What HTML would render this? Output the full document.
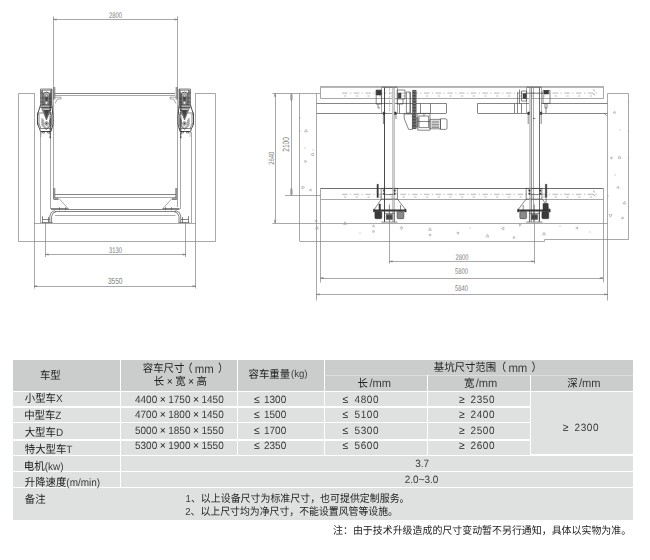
<!DOCTYPE html>
<html lang="zh"><head><meta charset="utf-8"><title>设备参数</title><style>
html,body{margin:0;padding:0;background:#fff}
body{width:650px;height:560px;position:relative;overflow:hidden;font-family:"Liberation Sans","Noto Sans CJK SC",sans-serif;color:#3a3a3a;text-rendering:geometricPrecision;font-kerning:none}
#tbl div{position:absolute}
#tbl .h{background:#cbcdcc}
#tbl .r{background:#dfe0e0}
#tbl .hl{background:#dcdddd}
#tbl .wl{background:#fff}
#txt .t{position:absolute;white-space:nowrap;line-height:2em;height:2em;transform:scaleY(1.06);}
#txt{will-change:transform}
#txt .t span{white-space:pre}
#txt .c{color:#222}
#txt .x{display:inline-block;width:1.06em;text-align:center;color:#222}
#txt .q{display:inline-block;width:0.8em;text-align:center;color:#222}
#dwg{position:absolute;left:0;top:0}
#dwg text{font-family:"Liberation Sans",sans-serif;fill:#808080;stroke:none}
</style></head>
<body>
<svg id="dwg" width="650" height="340" viewBox="0 0 650 340" role="img" aria-label="drawings"><style>#dwg path{fill:none;stroke-linecap:butt;stroke-linejoin:miter}#dwg .a{stroke:#7a7a7a;stroke-width:.65}#dwg .b{stroke:#5c5c5c;stroke-width:.75}#dwg .c{stroke:#363636;stroke-width:.6}#dwg .m{stroke:#2a2a2a;stroke-width:.85}#dwg .d{stroke:#333;stroke-width:.5;fill:#444}#dwg .e{stroke:#2a2a2a;stroke-width:1.1;stroke-dasharray:1 .35}#dwg .e2{stroke:#555;stroke-width:.7;stroke-dasharray:.8 .5}#dwg .f{stroke:none;fill:#d2d2d2}#dwg .k{stroke:#484848;stroke-width:.8}#dwg .a2{stroke:#9a9a9a;stroke-width:.5;stroke-dasharray:3 1}#dwg .gh{stroke:#2e2e2e;stroke-width:2.6;stroke-dasharray:.7 .8}#dwg .w{stroke:#333;stroke-width:.5;fill:#3a3a3a}#dwg .g{stroke:#333;stroke-width:.5;fill:#8a8a8a}#dwg .cl{stroke:#7a7a7a;stroke-width:.55;stroke-dasharray:5.5 2.5 1.2 2.5}#dwg .tk{stroke:#888;stroke-width:.55;stroke-dasharray:2.4 9.3}#dwg .l{stroke:#b0b0b0;stroke-width:.9}#dwg .t{stroke:#8a8a8a;stroke-width:.5}</style><path class="a" d="M53.5 16.4V86.5M177.5 16.4V86.5M53.5 19.5H177.5M53.5 19.5L56.7 19M53.5 19.5L56.7 20M177.5 19.5L174.3 19M177.5 19.5L174.3 20M34.5 93.5L18.5 93.5L18.5 241.5L215.5 241.5L215.5 93.5L195.5 93.5M34.5 93.2V288.5M195.5 93.2V288.5M34 223.5H195.6M40.5 132V223M50.5 134V209M53.5 86.5V199M177.5 86.5V207M180.5 134V209M191.5 132V223M54.5 95.5H175M55 97.2L61 97.2L61 99L57.5 99L55 103.5M176 97.2L170 97.2L170 99L173.5 99L176 103.5M54.5 197.5H176M59 198.5L68 208.5M172 198.5L163 208.5M55 215.5H175.5M45.5 223V257M185.5 223V257M45.6 254.5H185.6M45.6 254.5L48.8 254M45.6 254.5L48.8 255M185.6 254.5L182.4 254M185.6 254.5L182.4 255M34 286.5H195.6M34 286.2L37.2 285.7M34 286.2L37.2 286.7M195.6 286.2L192.4 285.7M195.6 286.2L192.4 286.7"/><path class="b" d="M54.5 93.5H175M53.8 87L53.8 99.5M54.8 87L54.8 99.5M176.2 87L176.2 99.5M177.2 87L177.2 99.5M54.5 194.5H176M53.8 188L53.8 199.5L58.5 199.5M54.8 188L54.8 198.3L58.5 198.3M176.8 188L176.8 199.5L172 199.5M175.8 188L175.8 198.3L172 198.3M51 209.5H179.5M55 211.5H176M59.5 207.3V210.3M65.5 207.3V210.3M165.5 207.3V210.3M171.5 207.3V210.3M51 208.5H68.5M162.5 208.5H179.5M55 210.5L51.2 212.5L49.8 216L49.8 222.6M56.5 211.5L53 213.2L51.6 216.5L51.6 222.6M175.5 210.5L179.3 212.5L180.7 216L180.7 222.6M174 211.5L177.5 213.2L179 216.5L179 222.6M42.5 216.2V222.6M42.6 219.5H49.8M48.5 217V222.6M188.5 216.2V222.6M181 219.5H188.4M182.5 217V222.6M41.5 222.5H52.5M178.5 222.5H189.5"/><text x="109" y="18.1" font-size="8.2" textLength="13" lengthAdjust="spacingAndGlyphs">2800</text><text x="109" y="252.7" font-size="8.2" textLength="13" lengthAdjust="spacingAndGlyphs">3130</text><text x="107.9" y="283.6" font-size="8.9" textLength="14.6" lengthAdjust="spacingAndGlyphs">3550</text><g transform="translate(46 89)"><path class="c" d="M-5.5 0H6V16H-5.5ZM-4.3 1.2H4.8V16H-4.3ZM-1.5 16V6.6A2 2 0 0 1 2.5 6.6V16M-0.4 8V6.6A.9 .9 0 0 1 1.4 6.6V8M-0.8 12.6H1.8V15.2H-0.8ZM-5.5 4H-2M-5.5 9H-2.7M-5.5 13H-2.7M3.7 13H6M3.7 9H6M-3.5 1.2V16M5.4 0V16M-7 25L-7 35L-5.2 39M5.6 25L5.6 35L4.6 39M-8.5 25L-7 25M-8.5 35L-7 35M-4.6 18.5L0.5 31L5.2 18.5ZM-3.4 19.6L0.5 29.6L4.2 19.6ZM-4 29L-4 36.5L0.5 40.5L4.6 36.5L4.6 29M-2.8 30.5L-2.8 36L0.5 39L3.6 36L3.6 30.5M-1.3 34.5A1.8 1.8 0 1 0 2.3 34.5A1.8 1.8 0 1 0 -1.3 34.5M-5.8 18.5H6.2M-5.6 17.2H6.1M-8.5 24H-3M3.5 24H7M-6.5 39.5H6M-3.6 42.5H-1.6V44H-3.6ZM1.6 42.5H3.6V44H1.6Z"/><path class="m" d="M-2.7 16V6.3A3.2 3.2 0 0 1 3.7 6.3V16M-5.5 16L-7 21L-8.5 25L-8.5 35L-6.5 39.5L-5.5 42.5L5 42.5L6 39L7 35L7 27L6.5 22L6 16"/><path class="d" d="M-0.8 8H1.8V11.8H-0.8ZM-2.2 21L0.5 28.5L3.2 21ZM-.2 34.5A.7 .7 0 1 0 1.2 34.5A.7 .7 0 1 0 -.2 34.5"/><path class="e" d="M4.2 3.5V49.8"/><path class="e2" d="M-4.8 1.5V17M-5 43V47.5"/></g><g transform="translate(185 89) scale(-1 1)"><path class="c" d="M-5.5 0H6V16H-5.5ZM-4.3 1.2H4.8V16H-4.3ZM-1.5 16V6.6A2 2 0 0 1 2.5 6.6V16M-0.4 8V6.6A.9 .9 0 0 1 1.4 6.6V8M-0.8 12.6H1.8V15.2H-0.8ZM-5.5 4H-2M-5.5 9H-2.7M-5.5 13H-2.7M3.7 13H6M3.7 9H6M-3.5 1.2V16M5.4 0V16M-7 25L-7 35L-5.2 39M5.6 25L5.6 35L4.6 39M-8.5 25L-7 25M-8.5 35L-7 35M-4.6 18.5L0.5 31L5.2 18.5ZM-3.4 19.6L0.5 29.6L4.2 19.6ZM-4 29L-4 36.5L0.5 40.5L4.6 36.5L4.6 29M-2.8 30.5L-2.8 36L0.5 39L3.6 36L3.6 30.5M-1.3 34.5A1.8 1.8 0 1 0 2.3 34.5A1.8 1.8 0 1 0 -1.3 34.5M-5.8 18.5H6.2M-5.6 17.2H6.1M-8.5 24H-3M3.5 24H7M-6.5 39.5H6M-3.6 42.5H-1.6V44H-3.6ZM1.6 42.5H3.6V44H1.6Z"/><path class="m" d="M-2.7 16V6.3A3.2 3.2 0 0 1 3.7 6.3V16M-5.5 16L-7 21L-8.5 25L-8.5 35L-6.5 39.5L-5.5 42.5L5 42.5L6 39L7 35L7 27L6.5 22L6 16"/><path class="d" d="M-0.8 8H1.8V11.8H-0.8ZM-2.2 21L0.5 28.5L3.2 21ZM-.2 34.5A.7 .7 0 1 0 1.2 34.5A.7 .7 0 1 0 -.2 34.5"/><path class="e" d="M4.2 3.5V49.8"/><path class="e2" d="M-4.8 1.5V17M-5 43V47.5"/></g><path class="a" d="M272.4 93.5H320.6M275.5 93.6V223M275 93.6L274.5 96.8M275 93.6L275.5 96.8M275 223L274.5 219.8M275 223L275.5 219.8M291.5 93.6V195.4M291.4 93.8A.8 3.5 0 0 1 291.4 100.8A.8 3.5 0 0 1 291.4 93.8M291.4 188.2A.8 3.5 0 0 1 291.4 195.2A.8 3.5 0 0 1 291.4 188.2M285 195.5H320.6M272.4 223.5H607.5M299.5 93.6V241M316.5 93.6V300.5M299.5 241.5L544.5 241.5L544.5 239.5L628.5 239.5L628.5 93.5L607.5 93.5M607.5 93.6V300.5M320.5 86.5H603.5V98.5H320.5ZM320.5 188.5H603.5V199.5H320.5ZM322.6 90.5v.1M322.6 94.5v.1M322.6 191.5v.1M593 89.5L595.2 91.5M593 93.6L595.2 95.2M593 190.6L595.2 192.4M593 194.4L595.2 196M320.5 199.6V282.5M603.5 199.6V282.5M604 113L607 116M392.5 87.6V221.5M394.5 87.6V221.5M381.5 87V113M397.5 87V113M529.5 87.6V221.5M533.5 87.6V221.5M526.5 87V113M541.5 87V113M299.5 131h1M299.5 118h1M628.1 102h1M628.1 158h1M628.1 131h1M607.5 196h1M312.5 150h1M304.5 148h1M619.5 130h1M614.5 175h1M359.5 233h1M469.5 228h1M589.5 232h1M559.5 226h1M389.5 223V263.5M534.5 223V263.5M389.6 261.5H534.4M389.6 261.4L392.8 260.9M389.6 261.4L392.8 261.9M534.4 261.4L531.2 260.9M534.4 261.4L531.2 261.9M320.6 278.5H603M320.6 278L323.8 277.5M320.6 278L323.8 278.5M603 278L599.8 277.5M603 278L599.8 278.5M316.6 294.5H607.5M316.6 294.4L319.8 293.9M316.6 294.4L319.8 294.9M607.5 294.4L604.3 293.9M607.5 294.4L604.3 294.9"/><path class="l" d="M320.6 86.5H603M320.6 87.5H603"/><path class="cl" d="M342 93.1H597M342 194.3H597"/><path class="tk" d="M344 96H596M344 197H596"/><path class="b" d="M316.6 103.5H446.4M477.6 103.5H529M541 103.5H607.5M316.6 113.5H446.4M477.6 113.5H529M541 113.5H607.5M446.5 103.4V113M477.5 103.4V113M420.5 103.4V113M430.5 103.4V113M514.5 103.4V113M517.5 103.4V113M521.5 103.4V113M531.5 87.6V221.5M320.6 188.5H603"/><path class="f" d="M392.3 87.6H394.6V221.5H392.3ZM529.2 87.6H531.2V221.5H529.2Z"/><path class="m" d="M384.5 87.6V221.5"/><path class="a2" d="M389.5 88V112"/><path class="c" d="M381.6 87.2H397.2M526.6 87.2H541.6M381.2 188.4H397.4V199.1H381.2ZM526.2 188.4H541.9V199.1H526.2ZM385.4 194.6H393.2M530.8 194.6H538.8M546.1 197.2V204M376.2 90.2H381.6V104H376.2ZM378 104L378 108L380 108M397.2 90H405V99H397.2ZM397.2 99L397.2 104L403 104L403 99M399.5 104L399.5 113M406.4 92H410V113H406.4ZM383.4 114V124M396 114V119M528.2 114V124M541.2 114V124M521.5 91H526.6V101H521.5ZM519.5 89.5L519.5 103.4M517.6 92L517.6 103.4M543 90.5H550V103.4H543ZM545 103.4L545 108L547 108L547 103.4M546 108V113M526.6 93.2H543M533 118.5H535.4M404 114L412.4 114L412.4 129.4L408.6 129.4L404.4 119ZM410.4 92L410.4 113M417.8 113.4H430V130.2H417.8ZM419 116H428.6V127.6H419ZM417.8 121.5H430M424 113.4V116M416 118H417.8V127H416ZM430 119.4H440.4V128.8H430ZM431.5 121.2H439M431.5 122.8H439M431.5 124.4H439M431.5 126H439M431.5 127.4H439M440.4 118.8H445.6A1.4 1.4 0 0 1 447 120.2V128A1.4 1.4 0 0 1 445.6 129.4H440.4Z"/><path class="k" d="M539.5 87.6V221.5"/><path class="w" d="M383.4 189.8h1.3v1.5h-1.3ZM383.4 192.9h1.3v1.5h-1.3ZM394 189.8h1.3v1.5h-1.3ZM394 192.9h1.3v1.5h-1.3ZM528.8 189.8h1.3v1.5h-1.3ZM528.8 192.9h1.3v1.5h-1.3ZM539.6 189.8h1.3v1.5h-1.3ZM539.6 192.9h1.3v1.5h-1.3ZM377 184.3H378.3V197.6H377ZM545.4 184.3H546.8V197.2H545.4ZM376.2 90.2H381V95H376.2ZM383.2 112h1.6v2.4h-1.6ZM394.6 112h1.6v2.4h-1.6ZM527.8 112h1.6v2.4h-1.6ZM540.2 112h1.6v2.4h-1.6ZM544 90.5H548.6V94H544Z"/><path class="d" d="M398.2 93H401V98H398.2ZM523 93.5H526V98.5H523Z"/><path class="g" d="M412.5 90.4H416.2V128.6H412.5Z"/><path class="gh" d="M414.35 90.6V128.4"/><path class="t" d="M306 129.3L307.47 131.85L304.53 131.85ZM313.35 153.03L313.35 155.97L310.8 154.5ZM305.06 162.72L304.66 160.5L306.78 161.27ZM304.5 187.5L301.95 188.97L301.95 186.03ZM310.73 188.72L311.5 190.84L309.28 190.44ZM316.84 220L316.44 222.22L314.72 220.77ZM317 226.3L318.47 228.85L315.53 228.85ZM373.94 224.78L374.34 227L372.22 226.23ZM373.06 232.72L372.66 230.5L374.78 231.27ZM402.97 227.15L401.5 229.7L400.03 227.15ZM430 227.8L431.47 230.35L428.53 230.35ZM429.77 236.28L429 234.16L431.22 234.56ZM458.84 232L458.44 234.22L456.72 232.77ZM487.5 234.3L488.97 236.85L486.03 236.85ZM503.85 227.03L503.85 229.97L501.3 228.5ZM515.28 237.73L513.16 238.5L513.56 236.28ZM519.56 226.22L519.16 224L521.28 224.77ZM544 232.3L545.47 234.85L542.53 234.85ZM575.72 228.23L577.44 226.78L577.84 229ZM345 221.8L346.47 224.35L343.53 224.35ZM614.73 111.22L615.5 113.34L613.28 112.94ZM611.06 159.22L610.66 157L612.78 157.77ZM619.5 155.8L620.97 158.35L618.03 158.35ZM619 188.34L616.78 187.94L618.23 186.22ZM624.5 201.3L625.97 203.85L623.03 203.85ZM611.97 214.65L610.5 217.2L609.03 214.65ZM622.94 216.78L623.34 219L621.22 218.23Z"/><text transform="translate(268.20 158.20) rotate(-90)" x="-6.45" y="5.5" font-size="7.7" textLength="12.9" lengthAdjust="spacingAndGlyphs">2640</text><text transform="translate(282.20 144.40) rotate(-90)" x="-7.4" y="6.6" font-size="9.2" textLength="14.8" lengthAdjust="spacingAndGlyphs">2100</text><text x="455.5" y="259.9" font-size="8.2" textLength="13" lengthAdjust="spacingAndGlyphs">2800</text><text x="455" y="274.1" font-size="8.2" textLength="13" lengthAdjust="spacingAndGlyphs">5800</text><text x="455" y="290.5" font-size="8.2" textLength="13" lengthAdjust="spacingAndGlyphs">5840</text><g transform="translate(389.7 0)"><path class="c" d="M-8.4 199.1L-15.3 209.4M7.8 199.1L15.7 209.4M9.2 211.6V218.7M10.8 211.6V218.7M12.4 211.6V218.7M10.8 205V209.8M-5.2 211.2V222M4.6 211.2V222M-0.3 204.5V222M-5.2 213.4H4.6M-8.4 222.1H7.8"/><path class="w" d="M-15.6 209.8H15.9V211.2H-15.6ZM-16.2 209.2H-15V212H-16.2ZM15.2 209.2H16.4V212H15.2ZM-14.8 212.6Q-14.8 211.6 -13.8 211.6H-8.9Q-7.9 211.6 -7.9 212.6V217.7Q-7.9 218.7 -8.9 218.7H-13.8Q-14.8 218.7 -14.8 217.7ZM-10.7 204H-9.3V209.8H-10.7Z"/><path class="g" d="M7.4 212.6Q7.4 211.6 8.4 211.6H13.2Q14.2 211.6 14.2 212.6V217.7Q14.2 218.7 13.2 218.7H8.4Q7.4 218.7 7.4 217.7ZM-3.5 214.6H2.6V219.4H-3.5Z"/><path class="d" d="M-2.8 215.4H-0.8V218.6H-2.8ZM-0.1 215.4H1.9V218.6H-0.1Z"/></g><g transform="translate(534 0) scale(-1 1)"><path class="c" d="M-8.4 199.1L-15.3 209.4M7.8 199.1L15.7 209.4M9.2 211.6V218.7M10.8 211.6V218.7M12.4 211.6V218.7M10.8 205V209.8M-5.2 211.2V222M4.6 211.2V222M-0.3 204.5V222M-5.2 213.4H4.6M-8.4 222.1H7.8"/><path class="w" d="M-15.6 209.8H15.9V211.2H-15.6ZM-16.2 209.2H-15V212H-16.2ZM15.2 209.2H16.4V212H15.2ZM-14.8 212.6Q-14.8 211.6 -13.8 211.6H-8.9Q-7.9 211.6 -7.9 212.6V217.7Q-7.9 218.7 -8.9 218.7H-13.8Q-14.8 218.7 -14.8 217.7ZM-14.2 203.6H-9V209.8H-14.2Z"/><path class="g" d="M7.4 212.6Q7.4 211.6 8.4 211.6H13.2Q14.2 211.6 14.2 212.6V217.7Q14.2 218.7 13.2 218.7H8.4Q7.4 218.7 7.4 217.7ZM-3.5 214.6H2.6V219.4H-3.5Z"/><path class="d" d="M-2.8 215.4H-0.8V218.6H-2.8ZM-0.1 215.4H1.9V218.6H-0.1Z"/></g></svg>
<div id="tbl"><div class="h" style="left:13px;top:360px;width:107.05px;height:30.60px"></div><div class="h" style="left:121.35000000000001px;top:360px;width:115.20px;height:30.60px"></div><div class="h" style="left:237.85px;top:360px;width:86.10px;height:30.60px"></div><div class="h" style="left:325.25px;top:360px;width:307.75px;height:30.60px"></div><div class="hl" style="left:325.25px;top:375.0px;width:307.75px;height:0.80px"></div><div class="wl" style="left:426.65000000000003px;top:375.4px;width:1.30px;height:15.20px"></div><div class="wl" style="left:529.95px;top:375.4px;width:1.30px;height:15.20px"></div><div class="r" style="left:13px;top:391.6px;width:107.05px;height:14.90px"></div><div class="r" style="left:121.35000000000001px;top:391.6px;width:115.20px;height:14.90px"></div><div class="r" style="left:237.85px;top:391.6px;width:86.10px;height:14.90px"></div><div class="r" style="left:325.25px;top:391.6px;width:101.40px;height:14.90px"></div><div class="r" style="left:427.95px;top:391.6px;width:102.00px;height:14.90px"></div><div class="r" style="left:13px;top:407.5px;width:107.05px;height:14.60px"></div><div class="r" style="left:121.35000000000001px;top:407.5px;width:115.20px;height:14.60px"></div><div class="r" style="left:237.85px;top:407.5px;width:86.10px;height:14.60px"></div><div class="r" style="left:325.25px;top:407.5px;width:101.40px;height:14.60px"></div><div class="r" style="left:427.95px;top:407.5px;width:102.00px;height:14.60px"></div><div class="r" style="left:13px;top:423.1px;width:107.05px;height:16.40px"></div><div class="r" style="left:121.35000000000001px;top:423.1px;width:115.20px;height:16.40px"></div><div class="r" style="left:237.85px;top:423.1px;width:86.10px;height:16.40px"></div><div class="r" style="left:325.25px;top:423.1px;width:101.40px;height:16.40px"></div><div class="r" style="left:427.95px;top:423.1px;width:102.00px;height:16.40px"></div><div class="r" style="left:13px;top:440.5px;width:107.05px;height:14.00px"></div><div class="r" style="left:121.35000000000001px;top:440.5px;width:115.20px;height:14.00px"></div><div class="r" style="left:237.85px;top:440.5px;width:86.10px;height:14.00px"></div><div class="r" style="left:325.25px;top:440.5px;width:101.40px;height:14.00px"></div><div class="r" style="left:427.95px;top:440.5px;width:102.00px;height:14.00px"></div><div class="r" style="left:531.25px;top:391.6px;width:101.75px;height:62.90px"></div><div class="r" style="left:13px;top:455.5px;width:107.05px;height:15.40px"></div><div class="r" style="left:121.35000000000001px;top:455.5px;width:511.65px;height:15.40px"></div><div class="r" style="left:13px;top:471.9px;width:107.05px;height:15.40px"></div><div class="r" style="left:121.35000000000001px;top:471.9px;width:511.65px;height:15.40px"></div><div class="r" style="left:13px;top:488.3px;width:620.00px;height:31.70px"></div></div>
<div id="txt"><div class="t" style="left:39.94px;top:367.00px;font-size:10.4px;transform-origin:0 13px;"><span class="c">车型</span></div><div class="t" style="left:142.79px;top:360.40px;font-size:10.4px;transform-origin:0 13px;"><span class="c">容车尺寸</span></div><div class="t" style="left:182.31px;top:360.40px;font-size:10.4px;transform-origin:0 13px;"><span class="c">（</span></div><div class="t" style="left:194.80px;top:360.00px;font-size:10.4px;transform-origin:0 13px;"><span style="font-size:1.096em;">mm</span></div><div class="t" style="left:218.12px;top:360.40px;font-size:10.4px;transform-origin:0 13px;"><span class="c">）</span></div><div class="t" style="left:153.81px;top:373.00px;font-size:10.4px;transform-origin:0 13px;"><span class="c">长</span><span class="x">×</span><span class="c">宽</span><span class="x">×</span><span class="c">高</span></div><div class="t" style="left:248.59px;top:365.60px;font-size:10.4px;transform-origin:0 13px;"><span class="c">容车重量</span></div><div class="t" style="left:291.00px;top:365.40px;font-size:10.4px;transform-origin:0 13px;"><span style="font-size:0.9231em;">(kg)</span></div><div class="t" style="left:433.80px;top:359.00px;font-size:10.4px;transform-origin:0 13px;"><span class="c">基坑尺寸范围</span></div><div class="t" style="left:495.71px;top:359.00px;font-size:10.4px;transform-origin:0 13px;"><span class="c">（</span></div><div class="t" style="left:508.40px;top:358.60px;font-size:10.4px;transform-origin:0 13px;"><span style="font-size:1.096em;">mm</span></div><div class="t" style="left:531.52px;top:359.00px;font-size:10.4px;transform-origin:0 13px;"><span class="c">）</span></div><div class="t" style="left:357.41px;top:374.60px;font-size:10.4px;transform-origin:0 13px;"><span class="c">长</span></div><div class="t" style="left:369.40px;top:374.20px;font-size:10.4px;transform-origin:0 13px;"><span style="font-size:1.067em;">/mm</span></div><div class="t" style="left:463.94px;top:374.60px;font-size:10.4px;transform-origin:0 13px;"><span class="c">宽</span></div><div class="t" style="left:475.80px;top:374.20px;font-size:10.4px;transform-origin:0 13px;"><span style="font-size:1.067em;">/mm</span></div><div class="t" style="left:567.18px;top:374.60px;font-size:10.4px;transform-origin:0 13px;"><span class="c">深</span></div><div class="t" style="left:579.00px;top:374.20px;font-size:10.4px;transform-origin:0 13px;"><span style="font-size:1.067em;">/mm</span></div><div class="t" style="left:24.85px;top:389.90px;font-size:10.4px;transform-origin:0 13px;"><span class="c">小型车</span><span style="font-size:0.9615em;">X</span></div><div class="t" style="left:135.00px;top:390.90px;font-size:10.4px;transform-origin:0 13px;"><span style="font-size:0.9615em;">4400</span><span class="x">×</span><span style="font-size:0.9615em;">1750</span><span class="x">×</span><span style="font-size:0.9615em;">1450</span></div><div class="t" style="left:252.60px;top:390.90px;font-size:10.4px;transform-origin:0 13px;"><span class="q">≤</span></div><div class="t" style="left:264.00px;top:390.90px;font-size:10.4px;transform-origin:0 13px;"><span style="font-size:0.9615em;">1300</span></div><div class="t" style="left:341.20px;top:390.90px;font-size:10.4px;transform-origin:0 13px;"><span class="q">≤</span></div><div class="t" style="left:354.60px;top:390.90px;font-size:10.4px;transform-origin:0 13px;"><span style="font-size:0.9615em;letter-spacing:0.55px;">4800</span></div><div class="t" style="left:457.80px;top:390.90px;font-size:10.4px;transform-origin:0 13px;"><span class="q">≥</span></div><div class="t" style="left:470.60px;top:390.90px;font-size:10.4px;transform-origin:0 13px;"><span style="font-size:0.9615em;letter-spacing:0.55px;">2350</span></div><div class="t" style="left:24.18px;top:406.80px;font-size:10.4px;transform-origin:0 13px;"><span class="c">中型车</span><span style="font-size:0.9615em;">Z</span></div><div class="t" style="left:135.00px;top:406.40px;font-size:10.4px;transform-origin:0 13px;"><span style="font-size:0.9615em;">4700</span><span class="x">×</span><span style="font-size:0.9615em;">1800</span><span class="x">×</span><span style="font-size:0.9615em;">1450</span></div><div class="t" style="left:252.60px;top:406.40px;font-size:10.4px;transform-origin:0 13px;"><span class="q">≤</span></div><div class="t" style="left:264.00px;top:406.40px;font-size:10.4px;transform-origin:0 13px;"><span style="font-size:0.9615em;">1500</span></div><div class="t" style="left:341.20px;top:406.40px;font-size:10.4px;transform-origin:0 13px;"><span class="q">≤</span></div><div class="t" style="left:354.60px;top:406.40px;font-size:10.4px;transform-origin:0 13px;"><span style="font-size:0.9615em;letter-spacing:0.55px;">5100</span></div><div class="t" style="left:457.80px;top:406.40px;font-size:10.4px;transform-origin:0 13px;"><span class="q">≥</span></div><div class="t" style="left:470.60px;top:406.40px;font-size:10.4px;transform-origin:0 13px;"><span style="font-size:0.9615em;letter-spacing:0.55px;">2400</span></div><div class="t" style="left:24.74px;top:423.70px;font-size:10.4px;transform-origin:0 13px;"><span class="c">大型车</span><span style="font-size:0.9615em;">D</span></div><div class="t" style="left:135.00px;top:421.90px;font-size:10.4px;transform-origin:0 13px;"><span style="font-size:0.9615em;">5000</span><span class="x">×</span><span style="font-size:0.9615em;">1850</span><span class="x">×</span><span style="font-size:0.9615em;">1550</span></div><div class="t" style="left:252.60px;top:421.90px;font-size:10.4px;transform-origin:0 13px;"><span class="q">≤</span></div><div class="t" style="left:264.00px;top:421.90px;font-size:10.4px;transform-origin:0 13px;"><span style="font-size:0.9615em;">1700</span></div><div class="t" style="left:341.20px;top:421.90px;font-size:10.4px;transform-origin:0 13px;"><span class="q">≤</span></div><div class="t" style="left:354.60px;top:421.90px;font-size:10.4px;transform-origin:0 13px;"><span style="font-size:0.9615em;letter-spacing:0.55px;">5300</span></div><div class="t" style="left:457.80px;top:421.90px;font-size:10.4px;transform-origin:0 13px;"><span class="q">≥</span></div><div class="t" style="left:470.60px;top:421.90px;font-size:10.4px;transform-origin:0 13px;"><span style="font-size:0.9615em;letter-spacing:0.55px;">2500</span></div><div class="t" style="left:24.77px;top:440.60px;font-size:10.4px;transform-origin:0 13px;"><span class="c">特大型车</span><span style="font-size:0.9615em;">T</span></div><div class="t" style="left:135.00px;top:437.40px;font-size:10.4px;transform-origin:0 13px;"><span style="font-size:0.9615em;">5300</span><span class="x">×</span><span style="font-size:0.9615em;">1900</span><span class="x">×</span><span style="font-size:0.9615em;">1550</span></div><div class="t" style="left:252.60px;top:437.40px;font-size:10.4px;transform-origin:0 13px;"><span class="q">≤</span></div><div class="t" style="left:264.00px;top:437.40px;font-size:10.4px;transform-origin:0 13px;"><span style="font-size:0.9615em;">2350</span></div><div class="t" style="left:341.20px;top:437.40px;font-size:10.4px;transform-origin:0 13px;"><span class="q">≤</span></div><div class="t" style="left:354.60px;top:437.40px;font-size:10.4px;transform-origin:0 13px;"><span style="font-size:0.9615em;letter-spacing:0.55px;">5600</span></div><div class="t" style="left:457.80px;top:437.40px;font-size:10.4px;transform-origin:0 13px;"><span class="q">≥</span></div><div class="t" style="left:470.60px;top:437.40px;font-size:10.4px;transform-origin:0 13px;"><span style="font-size:0.9615em;letter-spacing:0.55px;">2600</span></div><div class="t" style="left:561.40px;top:418.50px;font-size:10.4px;transform-origin:0 13px;"><span class="q">≥</span></div><div class="t" style="left:574.60px;top:418.50px;font-size:10.4px;transform-origin:0 13px;"><span style="font-size:0.9615em;letter-spacing:0.55px;">2300</span></div><div class="t" style="left:23.86px;top:457.50px;font-size:10.4px;transform-origin:0 13px;"><span class="c">电机</span><span style="font-size:0.9615em;">(kw)</span></div><div class="t" style="left:24.76px;top:474.40px;font-size:10.4px;transform-origin:0 13px;"><span class="c">升降速度</span><span style="font-size:0.9615em;">(m/min)</span></div><div class="t" style="left:415.20px;top:454.60px;font-size:10.4px;transform-origin:0 13px;"><span style="font-size:0.9615em;">3.7</span></div><div class="t" style="left:404.80px;top:471.00px;font-size:10.4px;transform-origin:0 13px;"><span style="font-size:0.9615em;">2.0~3.0</span></div><div class="t" style="left:24.87px;top:491.30px;font-size:10.4px;transform-origin:0 13px;"><span class="c">备注</span></div><div class="t" style="left:185.60px;top:490.00px;font-size:9.95px;transform-origin:0 13px;"><span style="font-size:0.9648em;">1</span><span class="c">、以上设备尺寸为标准尺寸，也可提供定制服务。</span></div><div class="t" style="left:185.20px;top:503.00px;font-size:9.9px;transform-origin:0 13px;"><span style="font-size:0.9697em;">2</span><span class="c">、以上尺寸均为净尺寸，不能设置风管等设施。</span></div><div class="t" style="left:333.00px;top:521.60px;font-size:9.95px;transform-origin:0 13px;"><span class="c">注：由于技术升级造成的尺寸变动暂不另行通知，具体以实物为准。</span></div></div>
</body></html>
